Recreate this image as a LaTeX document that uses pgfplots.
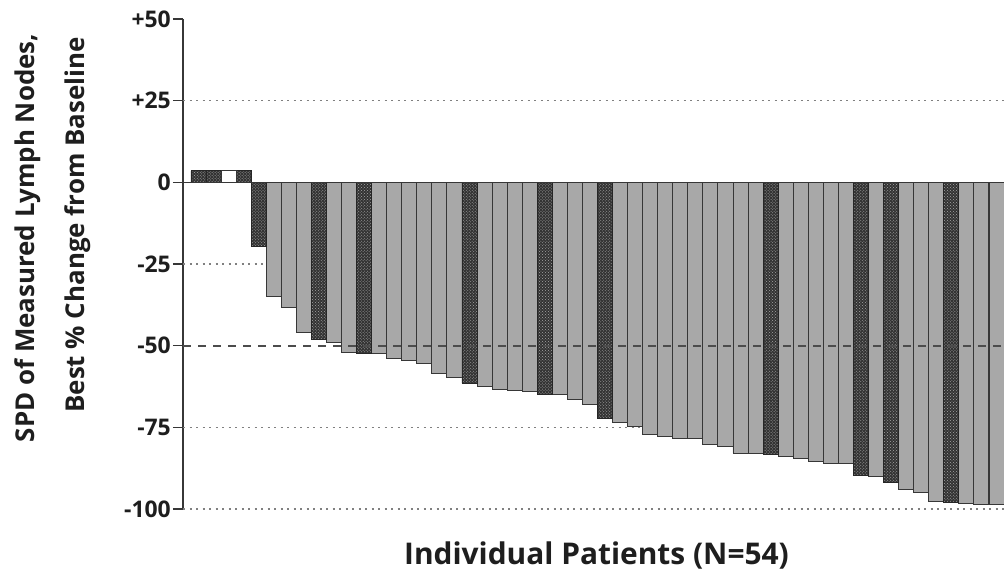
\documentclass[border=0pt]{standalone}
\usepackage{pgfplots}
\pgfplotsset{compat=1.18}
\usepackage{fontspec}
\setmainfont{Open Sans}
\usetikzlibrary{patterns,calc}
\definecolor{txt}{RGB}{30,30,30}
\definecolor{barg}{RGB}{168,168,168}
\definecolor{edge}{RGB}{55,55,55}
\begin{document}
\begin{tikzpicture}
\begin{axis}[
  name=ax, scale only axis, width=821bp, height=490bp,
  xmin=-0.03, xmax=54.5, ymin=-100, ymax=50,
  axis x line=none, axis y line*=left,
  y axis line style={draw=edge, line width=1.3bp, -},
  ytick={-100,-75,-50,-25,0,25,50},
  yticklabels={-100,-75,-50,-25,0,+25,+50},
  tick align=outside, major tick length=10bp,
  ytick style={draw=edge, line width=1.3bp},
  yticklabel style={font=\bfseries\fontsize{23}{27}\selectfont, text=txt, inner sep=2bp},
  ybar, bar width=15.06bp,
  clip=false,
]
% gridlines (behind)
\foreach \yy in {25,-25,-75,-100} {
  \edef\tmp{\noexpand\draw[gray, line width=1.3bp, dash pattern=on 2bp off 4.5bp] (axis cs:-0.03,\yy) -- (axis cs:54.5,\yy);}
  \tmp
}
\addplot[bar shift=0pt, fill=barg, draw=edge, line width=0.9bp] coordinates {
(6,-35) (7,-38.4) (8,-45.9) (10,-49) (11,-52) (13,-52.5) (14,-54) (15,-54.5)
(16,-55.5) (17,-58.4) (18,-59.6) (20,-62.5) (21,-63.3) (22,-63.7) (23,-64)
(25,-64.8) (26,-66.6) (27,-68.1) (29,-73.5) (30,-74.7) (31,-77.3) (32,-77.8)
(33,-78.3) (34,-78.3) (35,-80.2) (36,-80.9) (37,-82.9) (38,-83.1) (40,-84)
(41,-84.5) (42,-85.3) (43,-86) (44,-86) (46,-89.9) (48,-94) (49,-95)
(50,-97.8) (52,-98.3) (53,-98.5) (54,-98.5)
};
\addplot[bar shift=0pt, fill=black!80, draw=black!85, line width=0.9bp,
  postaction={pattern=crosshatch dots, pattern color=gray!70}] coordinates {
(1,3.5) (2,3.5) (4,3.5) (5,-19.5) (9,-48) (12,-52.3) (19,-61.5) (24,-64.8)
(28,-72.2) (39,-83.4) (45,-89.6) (47,-91.9) (51,-98.1)
};
\addplot[bar shift=0pt, fill=white, draw=edge, line width=0.9bp] coordinates {
(3,3.5)
};
\draw[edge, line width=1.3bp] (axis cs:-0.03,0) -- (axis cs:54.5,0);
\draw[black!70, line width=2bp, dash pattern=on 8bp off 7bp] (axis cs:-0.03,-50) -- (axis cs:54.5,-50);
\end{axis}
\node[rotate=90, anchor=base, font=\bfseries\fontsize{26}{30}\selectfont, text=txt]
  at ($(ax.south west)+(-148bp,271bp)$) {SPD of Measured Lymph Nodes,};
\node[rotate=90, anchor=base, font=\bfseries\fontsize{26}{30}\selectfont, text=txt]
  at ($(ax.south west)+(-98bp,284bp)$) {Best \% Change from Baseline};
\node[anchor=base, font=\bfseries\fontsize{30}{34}\selectfont, text=txt]
  at ($(ax.south west)+(413.5bp,-55bp)$) {Individual Patients (N=54)};
\pgfresetboundingbox
\path[use as bounding box] ($(ax.south west)+(-183bp,-64bp)$) rectangle ($(ax.north east)+(0,19bp)$);
\end{tikzpicture}
\end{document}
